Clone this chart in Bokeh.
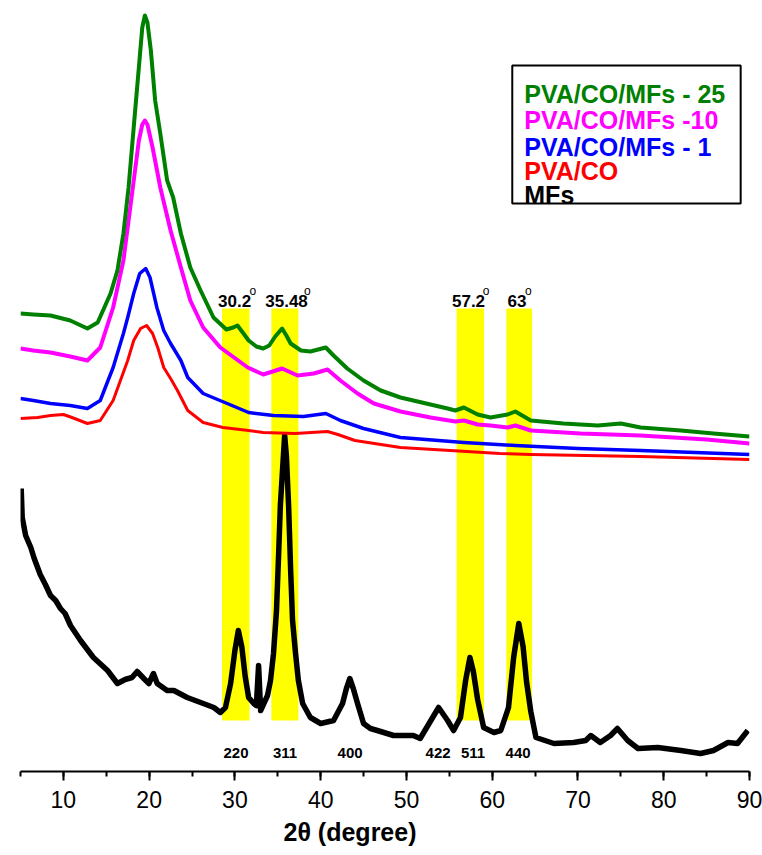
from bokeh.plotting import figure
from bokeh.models import Range1d, SingleIntervalTicker, BoxAnnotation, Title
from bokeh.core.properties import value
from bokeh.embed import file_html
from bokeh.resources import INLINE

# ---------------- data (2theta in degrees, intensity in a.u., curves offset) ----------------
green_x = [5.0, 6.5, 8.5, 10.8, 12.8, 14.0, 15.5, 16.3, 17.0, 17.6, 18.2, 18.8, 19.2, 19.5, 19.8,
           20.2, 20.7, 21.3, 22.1, 22.8, 23.7, 24.8, 26.0, 27.5, 29.0, 29.8, 30.3, 31.0, 31.6, 32.5,
           33.3, 34.0, 34.7, 35.5, 36.0, 36.5, 37.7, 38.8, 40.6, 41.5, 43.1, 45.0, 47.0, 49.3, 52.8,
           54.8, 55.7, 56.7, 58.3, 59.8, 61.8, 62.7, 64.5, 68.3, 72.3, 75.0, 77.3, 82.0, 85.8, 90.0]
green_y = [458, 457, 456, 451, 443, 449, 478, 501, 538, 584, 644, 704, 744, 756, 749,
           721, 671, 638, 591, 574, 538, 504, 481, 454, 442, 444, 446, 438, 431, 425,
           423, 426, 435, 443, 436, 428, 421, 420, 424, 416, 403, 391, 381, 374, 367,
           363, 361, 364, 357, 354, 357, 360, 351, 348, 346, 348, 344, 341, 338, 335]

magenta_x = [5.0, 6.5, 8.5, 10.8, 12.8, 14.3, 15.8, 17.0, 18.1, 18.8, 19.2, 19.5, 19.8, 20.4, 21.3,
             22.5, 23.7, 24.8, 26.3, 28.3, 31.5, 33.3, 35.5, 37.3, 39.2, 40.8, 42.3, 44.3, 46.2, 49.3,
             52.8, 55.7, 56.7, 58.3, 59.8, 61.8, 62.7, 64.5, 70.3, 77.3, 85.0, 90.0]
magenta_y = [423, 421, 419, 415, 411, 424, 464, 511, 584, 631, 647, 651, 647, 624, 584,
             541, 504, 471, 444, 424, 404, 397, 403, 396, 398, 402, 391, 378, 368, 360,
             354, 350, 351, 347, 346, 344, 346, 341, 338, 336, 332, 328]

blue_x = [5.0, 6.5, 8.5, 10.8, 12.8, 14.3, 15.8, 17.0, 17.5, 18.2, 18.9, 19.6, 20.1, 20.9, 21.7,
          22.5, 23.7, 24.5, 26.3, 29.1, 31.6, 34.5, 38.0, 40.6, 42.3, 45.0, 49.3, 56.7, 62.7, 70.0,
          77.3, 90.0]
blue_y = [373, 371, 368, 366, 363, 371, 404, 438, 454, 478, 498, 503, 494, 464, 441,
          428, 411, 394, 378, 368, 359, 356, 355, 358, 351, 343, 334, 329, 326, 323,
          321, 317]

red_x = [5.0, 7.0, 8.5, 10.0, 11.0, 12.8, 14.3, 15.8, 17.5, 18.2, 19.0, 19.7, 20.4, 21.0, 21.7,
         22.5, 23.3, 24.5, 26.3, 28.6, 31.6, 33.3, 37.0, 40.8, 42.0, 44.0, 49.3, 55.1, 60.9, 64.5,
         77.3, 90.0]
red_y = [353, 354, 356, 357, 354, 348, 351, 371, 411, 431, 443, 446, 438, 424, 404,
         393, 381, 361, 349, 344, 341, 339, 338, 340, 337, 331, 324, 321, 318, 317,
         315, 312]

black_x = [5.08, 5.2, 5.6, 6.2, 6.6, 7.3, 7.9, 8.5, 9.1, 9.66,
           10.2, 10.83, 12.0, 13.5, 15.15, 16.3, 17.2,
           18.0, 18.6, 19.38, 19.97, 20.5, 20.94, 22.1, 22.88, 24.44, 26.0,
           27.54, 28.3, 28.9, 29.5, 30.0, 30.4, 30.8, 31.2, 31.6, 32.2, 32.5,
           32.76, 33.0, 33.8, 34.15, 34.5, 34.85, 35.1, 35.3, 35.55, 35.8, 36.0, 36.26,
           36.5, 36.72, 37.07, 37.4,
           37.9, 38.8, 40.0, 41.5, 42.55, 43.0, 43.4, 43.8, 44.3, 45.0, 45.8, 46.6,
           48.5, 50.8, 51.6, 52.5, 53.75, 54.8, 55.5, 56.3, 56.9, 57.4,
           57.8, 58.3, 59.0, 60.2, 61.0, 61.9, 62.5, 63.1, 63.6, 64.0, 64.5, 65.1,
           67.2, 69.5, 70.9, 71.5, 72.6, 73.8, 74.6, 75.8, 77.0, 79.3,
           82.0, 84.3, 85.8, 87.5, 88.6, 89.8]
black_y = [283, 254, 236, 224, 213, 197, 187, 176, 171, 163,
           158, 146, 131, 114, 101, 88, 92,
           94, 100, 93, 88, 98, 88, 81, 81, 74, 69,
           64, 59, 64, 88, 121, 141, 125, 95, 74, 68, 66,
           106, 61, 76, 91, 118, 161, 218, 266, 301, 336, 316, 266,
           201, 151, 118, 91,
           68, 54, 48, 51, 68, 83, 93, 83, 68, 48, 43, 41,
           36, 36, 33, 46, 64, 51, 41, 54, 91, 114,
           100, 72, 44, 39, 41, 64, 114, 148, 125, 90, 60, 34,
           28, 29, 31, 36, 29, 36, 43, 31, 23, 24,
           21, 18, 21, 29, 28, 41]

series_names = ["PVA/CO/MFs - 25", "PVA/CO/MFs -10", "PVA/CO/MFs - 1", "PVA/CO", "MFs"]
series_colors = ["#008000", "#FF00FF", "#0000FF", "#FF0000", "#000000"]

# highlighted reflections (yellow bands) and annotations
band_left = [28.5, 34.25, 55.85, 61.65]
band_right = [31.7, 37.4, 59.05, 64.65]
band_bottom = [51, 51, 51, 51]
band_top = [463, 463, 463, 463]
peak_text = ["30.2", "35.48", "57.2", "63"]
peak_text_x = [29.96, 36.02, 57.24, 62.9]
peak_sup_x = [32.1, 38.45, 59.3, 64.2]
hkl_text = ["220", "311", "400", "422", "511", "440"]
hkl_x = [30.13, 35.84, 43.43, 53.69, 57.77, 63.02]

BOLD_FONT = "Liberation Sans"
NARROW_FONT = "Liberation Sans Narrow, Liberation Sans, sans-serif"

p = figure(width=762, height=855, output_backend="svg", toolbar_location=None,
           x_range=Range1d(5, 90), y_range=Range1d(0, 771), y_axis_location=None,
           min_border_left=20, min_border_right=13, min_border_top=0, min_border_bottom=84)
p.xgrid.visible = False
p.ygrid.visible = False
p.outline_line_color = None
p.background_fill_color = "white"
p.border_fill_color = "white"

# yellow bands
p.quad(left=band_left, right=band_right, bottom=band_bottom, top=band_top,
       fill_color="#FFFF00", line_color=None)

# curves
p.line(black_x, black_y, line_color=series_colors[4], line_width=5.5, line_join="round")
p.line(red_x, red_y, line_color=series_colors[3], line_width=3, line_join="round")
p.line(blue_x, blue_y, line_color=series_colors[2], line_width=3.5, line_join="round")
p.line(magenta_x, magenta_y, line_color=series_colors[1], line_width=4, line_join="round")
p.line(green_x, green_y, line_color=series_colors[0], line_width=4, line_join="round")

# peak position labels
p.text(x=peak_text_x, y=[471] * 4, text=peak_text, text_align="center", text_baseline="alphabetic",
       text_font=value(BOLD_FONT), text_font_style="bold", text_font_size="17px", text_color="black")
p.text(x=peak_sup_x, y=[481] * 4, text=["o"] * 4, text_align="center", text_baseline="alphabetic",
       text_font=value(BOLD_FONT), text_font_size="12px", text_color="black")

# hkl labels
p.text(x=hkl_x, y=[19] * 6, text=hkl_text, text_align="center", text_baseline="middle",
       text_font=value(BOLD_FONT), text_font_style="bold", text_font_size="15px", text_color="black")

# legend box with coloured names
p.add_layout(BoxAnnotation(left=62.34, right=88.97, bottom=568, top=706,
                           fill_alpha=0, line_color="black", line_alpha=1, line_width=2))
legend_y = [678, 652, 625, 601, 577]
p.text(x=[63.74] * 5, y=legend_y, text=series_names, text_color=series_colors,
       text_align="left", text_baseline="alphabetic",
       text_font=value(BOLD_FONT), text_font_style="bold", text_font_size="25px")

# x axis
ax = p.xaxis[0]
ax.ticker = SingleIntervalTicker(interval=10, num_minor_ticks=2)
ax.axis_line_width = 2
ax.axis_line_color = "black"
ax.major_tick_line_width = 2
ax.minor_tick_line_width = 2
ax.major_tick_line_color = "black"
ax.minor_tick_line_color = "black"
ax.major_tick_in = 0
ax.major_tick_out = 9
ax.minor_tick_in = 0
ax.minor_tick_out = 5
ax.major_label_standoff = 10
ax.major_label_text_font = NARROW_FONT
ax.major_label_text_font_size = "23px"
ax.major_label_text_color = "black"

p.add_layout(Title(text="2\u03b8 (degree)", align="left", offset=263, standoff=11,
                   text_font=BOLD_FONT, text_font_style="bold", text_font_size="25px",
                   text_color="black"), "below")

open("out.html", "w").write(file_html(p, INLINE))
